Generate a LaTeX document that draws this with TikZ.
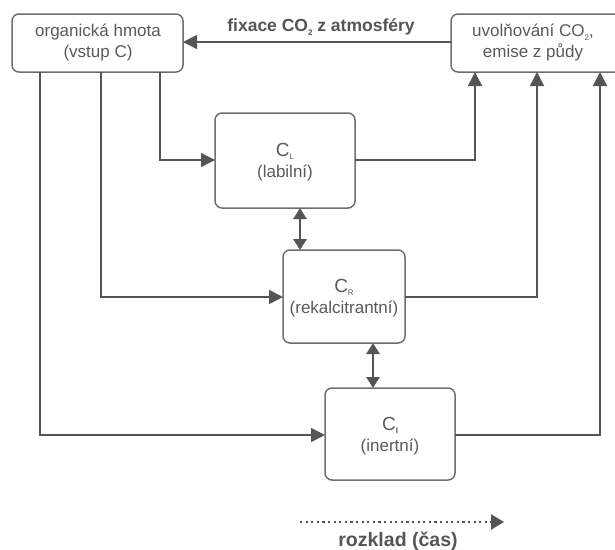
\documentclass[tikz,border=0pt]{standalone}
\usepackage{fontspec}
\setmainfont{Liberation Sans}
\usetikzlibrary{arrows.meta}
\definecolor{ln}{HTML}{555555}
\definecolor{bx}{HTML}{6E6E6E}
\definecolor{tx}{HTML}{5A5A5A}
\newcommand\sbs[1]{\raisebox{-3.5pt}{\fontsize{8}{8}\selectfont #1}}
\begin{document}
\begin{tikzpicture}[x=1pt,y=-1pt,
  box/.style={draw=bx, line width=1.5pt, rounded corners=7pt, fill=white},
  conn/.style={draw=ln, line width=1.5pt, -{Triangle[length=14pt,width=14pt]}},
  dbl/.style={draw=ln, line width=2.6pt, {Triangle[length=11pt,width=13pt]}-{Triangle[length=11pt,width=13pt]}},
  lbl/.style={text=tx, font=\fontsize{17}{21}\selectfont, align=center},
  blbl/.style={text=ln, font=\bfseries\fontsize{17.5}{18}\selectfont}]
\useasboundingbox (0,0) rectangle (615,549);
% boxes
\draw[box] (12,14) rectangle (183,72);
\node[lbl] (om) at (98,43) {organická hmota\\(vstup C)};
\draw[box] (451,14) rectangle (624,72);
\node[lbl] (em) at (533,43) {uvolňování CO\sbs{2},\\emise z půdy};
\draw[box] (215,113) rectangle (355,208);
\node[lbl] (cl) at (285,162) {{\fontsize{19}{21}\selectfont C\sbs{L}}\\(labilní)};
\draw[box] (283,250) rectangle (405,343);
\node[lbl] (cr) at (344,298) {{\fontsize{19}{21}\selectfont C\sbs{R}}\\(rekalcitrantní)};
\draw[box] (325,388) rectangle (455,480);
\node[lbl] (ci) at (390,436) {{\fontsize{19}{21}\selectfont C\sbs{\textbf{I}}}\\(inertní)};
% named anchor coordinates
\coordinate (omR) at (183,42);
\coordinate (emL) at (451,42);
\coordinate (a1) at (40,72);
\coordinate (a2) at (101,72);
\coordinate (a3) at (160,72);
\coordinate (clW) at (215,160);
\coordinate (crW) at (283,297);
\coordinate (ciW) at (325,435);
\coordinate (clE) at (355,160);
\coordinate (crE) at (405,297);
\coordinate (ciE) at (455,435);
\coordinate (b1) at (475,72);
\coordinate (b2) at (537,72);
\coordinate (b3) at (600,72);
% connectors
\draw[conn] (emL) -- (omR);
\node[blbl] (fx) at (321,27) {fixace CO\sbs{2} z atmosféry};
\draw[conn] (a3) |- (clW);
\draw[conn] (a2) |- (crW);
\draw[conn] (a1) |- (ciW);
\draw[conn] (clE) -| (b1);
\draw[conn] (crE) -| (b2);
\draw[conn] (ciE) -| (b3);
\coordinate (d1a) at (300,208);
\coordinate (d1b) at (300,250);
\coordinate (d2a) at (373,343);
\coordinate (d2b) at (373,388);
\draw[dbl] (d1a) -- (d1b);
\draw[dbl] (d2a) -- (d2b);
% time arrow
\coordinate (t1) at (300,522);
\coordinate (t2) at (504,522);
\draw[draw=ln, line width=2.2pt, dash pattern=on 2.2pt off 3.4pt, -{Triangle[length=13pt,width=15pt]}] (t1) -- (t2);
\node[blbl, font=\bfseries\fontsize{19.5}{20}\selectfont] (rz) at (398,541) {rozklad (čas)};
\end{tikzpicture}
\end{document}
